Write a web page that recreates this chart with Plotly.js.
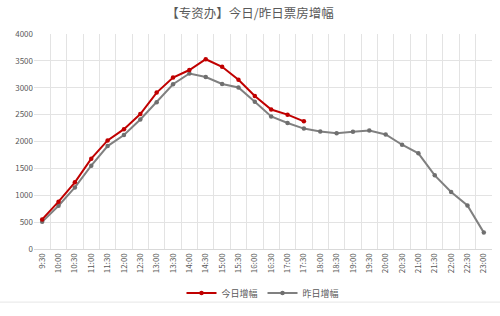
<!DOCTYPE html>
<html>
<head>
<meta charset="utf-8">
<script src="https://cdn.plot.ly/plotly-3.0.1.min.js"></script>
<style>
  html, body { margin: 0; padding: 0; background: #fff; }
  #chart { width: 500px; height: 316px; }
</style>
</head>
<body>
<div id="chart"></div>
<script>
// Half-hour slots from 9:30 to 23:00
const times = ["9:30","10:00","10:30","11:00","11:30","12:00","12:30","13:00","13:30","14:00",
  "14:30","15:00","15:30","16:00","16:30","17:00","17:30","18:00","18:30","19:00",
  "19:30","20:00","20:30","21:00","21:30","22:00","22:30","23:00"];

// Today's box-office increment (data up to 17:30)
const todayTimes = times.slice(0, 17);
const todayValues = [550, 880, 1240, 1680, 2020, 2230, 2510, 2910, 3190, 3330,
  3530, 3390, 3150, 2845, 2595, 2500, 2375];

// Yesterday's box-office increment (full day)
const yesterdayValues = [505, 805, 1145, 1550, 1915, 2120, 2410, 2730, 3065, 3265,
  3200, 3070, 3005, 2740, 2465, 2345, 2240, 2185, 2155, 2180,
  2205, 2130, 1940, 1780, 1370, 1060, 810, 305];

const yTicks = [0, 500, 1000, 1500, 2000, 2500, 3000, 3500, 4000];

const fontFamily = '"Noto Sans CJK SC", "Noto Sans", sans-serif';
const textColor = '#595959';

const traces = [
  {
    x: todayTimes, y: todayValues, name: '今日增幅',
    type: 'scatter', mode: 'lines+markers',
    line: { color: '#C00000', width: 2 },
    marker: { color: '#C00000', size: 4.5, symbol: 'circle' }
  },
  {
    x: times, y: yesterdayValues, name: '昨日增幅',
    type: 'scatter', mode: 'lines+markers',
    line: { color: '#808080', width: 2 },
    marker: { color: '#6f6f6f', size: 4.5, symbol: 'circle' }
  }
];
// draw today's series on top
traces.reverse();

const layout = {
  width: 500, height: 316,
  margin: { l: 34, r: 8, t: 34, b: 58 },
  paper_bgcolor: '#ffffff', plot_bgcolor: '#ffffff',
  font: { family: fontFamily, color: textColor, size: 8 },
  title: {
    text: '【专资办】今日/昨日票房增幅',
    font: { family: fontFamily, size: 12.5, color: textColor },
    x: 0.5, xanchor: 'center', y: 0.957, yanchor: 'middle'
  },
  xaxis: {
    type: 'category', categoryorder: 'array', categoryarray: times,
    range: [-0.5, times.length - 0.5],
    tickson: 'boundaries', ticks: '', showgrid: true,
    gridcolor: '#e3e3e3', gridwidth: 1,
    tickangle: -90, tickfont: { size: 8, color: textColor },
    showline: true, linecolor: '#d9d9d9', linewidth: 1,
    zeroline: false, fixedrange: true
  },
  yaxis: {
    range: [0, 4000], tickvals: yTicks, ticktext: yTicks.map(String),
    showgrid: true, gridcolor: '#e3e3e3', gridwidth: 1,
    zeroline: false, showline: false, ticks: '',
    tickfont: { size: 8, color: textColor }, fixedrange: true
  },
  showlegend: true,
  legend: {
    orientation: 'h', x: 0.5, xanchor: 'center', y: -0.205, yanchor: 'middle',
    font: { size: 9, color: textColor }, traceorder: 'reversed',
    itemwidth: 30, bgcolor: 'rgba(0,0,0,0)'
  },
  shapes: [{
    type: 'line', xref: 'paper', yref: 'paper',
    x0: -0.075, x1: 1.02, y0: -0.247, y1: -0.247,
    line: { color: '#e6e6e6', width: 1 }
  }]
};

Plotly.newPlot('chart', traces, layout, { displayModeBar: false, staticPlot: true });
</script>
</body>
</html>
